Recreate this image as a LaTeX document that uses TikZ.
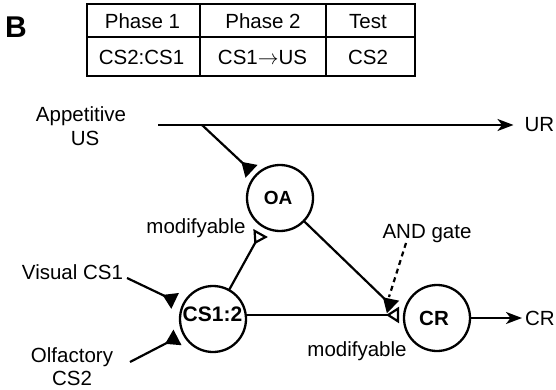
\documentclass[tikz,border=0pt]{standalone}
\usepackage{fontspec}
\setmainfont{Liberation Sans}
\usetikzlibrary{arrows.meta,calc}
\begin{document}
\begin{tikzpicture}[x=1pt,y=-1pt,
  every node/.style={inner sep=0pt, outer sep=0pt},
  lbl/.style={font=\fontsize{20.5}{24}\selectfont},
  unitlbl/.style={font=\bfseries\fontsize{#1}{#1}\selectfont},
  unit/.style={circle, draw, line width=2.3pt, minimum size=66pt},
  wire/.style={line width=2.2pt},
  syn/.style={wire, -{Triangle[reversed,length=14pt,width=17pt]}},
  osyn/.style={wire, -{Triangle[reversed,open,length=13pt,width=16pt]}},
  outarrow/.style={wire, -{Stealth[length=16pt,width=12pt,inset=4.5pt]}},
]
\useasboundingbox (0,0) rectangle (556,390);

% panel letter
\node[font=\bfseries\fontsize{30}{34}\selectfont] (panel) at (16,27.5) {B};

% protocol table
\draw[line width=2.2pt] (87,4) rectangle (415,76);
\draw[line width=2pt] (87,37) -- (415,37) (200,4) -- (200,76) (326,4) -- (326,76);
\node[lbl, anchor=base] (h1) at (142.5,28.5) {Phase 1};
\node[lbl, anchor=base] (h2) at (263,28.5) {Phase 2};
\node[lbl, anchor=base] (h3) at (368,28.5) {Test};
\node[lbl, anchor=base] (r1) at (141.5,65) {CS2:CS1};
\node[lbl, anchor=base] (r2) at (262.5,65) {CS1\ensuremath{\rightarrow}US};
\node[lbl, anchor=base] (r3) at (368,65) {CS2};

% units
\node[unit] (oa) at (280,198) {};
\node[unitlbl=19] (oatext) at (278,198) {OA};
\node[unit] (cs) at (213,319) {};
\node[unitlbl=21] (cstext) at (212.5,314.5) {CS1:2};
\node[unit] (cr) at (437,318) {};
\node[unitlbl=20.5] (crtext) at (434,318.5) {CR};

% input and output labels
\node[lbl, anchor=base] (app1) at (81,121.7) {Appetitive};
\node[lbl, anchor=base] (app2) at (85,145.7) {US};
\node[lbl, anchor=west] (urlbl) at (524.5,125) {UR};
\node[lbl, anchor=base] (vis) at (72.5,279) {Visual CS1};
\node[lbl, anchor=base] (olf1) at (72,362.7) {Olfactory};
\node[lbl, anchor=base] (olf2) at (72,385) {CS2};
\node[lbl, anchor=west] (crlbl) at (525,318) {CR};
\node[lbl, anchor=base] (mod1) at (196,233) {modifyable};
\node[lbl, anchor=base] (mod2) at (357,356) {modifyable};
\node[lbl, anchor=base] (andg) at (427,238) {AND gate};

% free ends of connectors
\coordinate (usin) at (158,125);
\coordinate (br) at (202,125);
\coordinate (visin) at (127,278);
\coordinate (olfin) at (130,362);
\coordinate (gate) at (393,307);
\coordinate (dashtop) at (406,243);
\coordinate (dashbot) at (389,297);

% US pathway
\draw[outarrow, shorten >=11pt] (usin) -- (urlbl.west);
\draw[syn, shorten >=6pt] (br) -- (oa);

% CS inputs
\draw[syn, shorten >=9pt] (visin) -- (cs);
\draw[syn, shorten >=7pt] (olfin) -- (cs);

% modifiable connections
\draw[osyn, shorten >=7pt] (cs) -- (oa);
\draw[osyn, shorten >=5pt] (cs.7) -- (cs.7 -| cr.west);

% gating by OA
\draw[syn] (oa) -- (gate);
\draw[wire, dash pattern=on 5pt off 4pt] (dashtop) -- (dashbot);

% response
\draw[outarrow, shorten >=3pt] (cr.east) -- (crlbl.west);
\end{tikzpicture}
\end{document}
